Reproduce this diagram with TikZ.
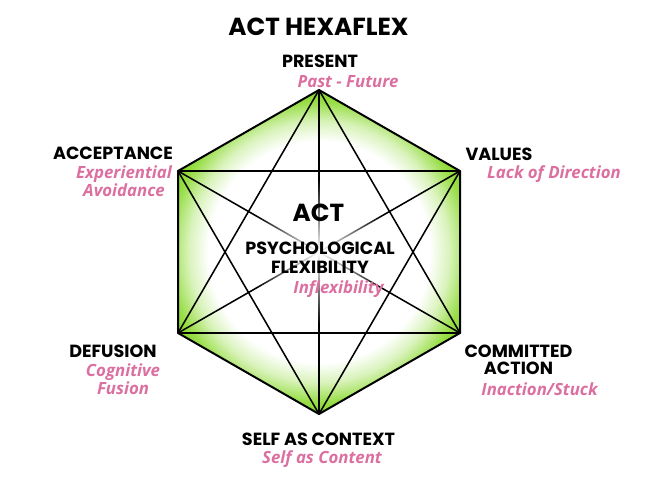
\documentclass[tikz,border=0pt]{standalone}
\usepackage{fontspec}
\usetikzlibrary{fadings}
\newfontfamily\headfont{Poppins}
\newfontfamily\subfont{Open Sans}
\definecolor{glowgreen}{RGB}{128,214,28}
\definecolor{subpink}{RGB}{219,111,160}
\pgfdeclareradialshading{hexglow}{\pgfpoint{0bp}{0bp}}{color(0bp)=(white); color(17bp)=(white); color(20bp)=(glowgreen!30!white); color(23bp)=(glowgreen!80!white); color(25bp)=(glowgreen); color(50bp)=(glowgreen)}
\tikzfading[name=centrefade, inner color=transparent!0, outer color=transparent!100]
\tikzset{every picture/.style={line width=0.75pt},
  head/.style={font=\headfont\bfseries\fontsize{13.2}{12.75}\selectfont, inner sep=0pt, align=center},
  bighead/.style={font=\headfont\bfseries\fontsize{18.5}{20}\selectfont, inner sep=0pt},
  sub/.style={font=\subfont\bfseries\itshape\fontsize{12.6}{12.3}\selectfont, text=subpink, inner sep=0pt, align=center},
  spoke/.style={line width=1.15pt, line join=round},
  rim/.style={line width=1.5pt, line join=round}}

\begin{document}
\begin{tikzpicture}[x=0.75pt,y=0.75pt,yscale=-1]
	\useasboundingbox (0,0) rectangle (666,486);
	
	%Vertices of the hexagon
	\coordinate (vpres) at (319,90);
	\coordinate (vval) at (460,171);
	\coordinate (vcom) at (460,333);
	\coordinate (vself) at (319,414);
	\coordinate (vdef) at (178,333);
	\coordinate (vacc) at (178,171);
	\coordinate (ctr) at (319,252);
	
	%Shape: Hexagon glow
	\begin{scope}
		\clip (vpres) -- (vval) -- (vcom) -- (vself) -- (vdef) -- (vacc) -- cycle;
		\shade[shading=hexglow] (ctr) circle (163);
	\end{scope}
	
	%Straight Lines: triangles
	\draw [spoke] (vpres) -- (vcom) -- (vdef) -- cycle;
	\draw [spoke] (vval) -- (vself) -- (vacc) -- cycle;
	%Straight Lines: diagonals
	\draw [spoke] (vpres) -- (vself);
	\draw [spoke] (vacc) -- (vcom);
	\draw [spoke] (vval) -- (vdef);
	%Straight Lines: edges
	\draw [rim] (vpres) -- (vval) -- (vcom) -- (vself) -- (vdef) -- (vacc) -- cycle;
	
	%Shape: Circle fading the centre
	\fill [white, path fading=centrefade] (ctr) circle (72);
	
	% Text Node
	\node [bighead] (title) at (318.5,27) {ACT HEXAFLEX};
	% Text Node
	\node [head] (present) at (320,61.5) {PRESENT};
	% Text Node
	\node [sub] (presentsub) at (348,81.5) {Past - Future};
	% Text Node
	\node [head] (accept) at (113,153.5) {ACCEPTANCE};
	% Text Node
	\node [sub] (acceptsub) at (124,181.5) {Experiential\\Avoidance};
	% Text Node
	\node [head] (values) at (499,154.5) {VALUES};
	% Text Node
	\node [sub] (valuessub) at (554,174) {Lack of Direction};
	% Text Node
	\node [head] (commit) at (518.5,360) {COMMITTED\\ACTION};
	% Text Node
	\node [sub] (commitsub) at (539.5,389) {Inaction/Stuck};
	% Text Node
	\node [head] (defuse) at (113,351.5) {DEFUSION};
	% Text Node
	\node [sub] (defusesub) at (123,379.5) {Cognitive\\Fusion};
	% Text Node
	\node [head] (selfctx) at (318.5,439.5) {SELF AS CONTEXT};
	% Text Node
	\node [sub] (selfctxsub) at (322,459) {Self as Content};
	% Text Node
	\node [bighead] (act) at (318.5,213) {ACT};
	% Text Node
	\node [head, font=\headfont\bfseries\fontsize{13.2}{14.25}\selectfont] (flex) at (320,258) {PSYCHOLOGICAL\\FLEXIBILITY};
	% Text Node
	\node [sub] (inflex) at (338.5,289.5) {Inflexibility};
	
\end{tikzpicture}
\end{document}
